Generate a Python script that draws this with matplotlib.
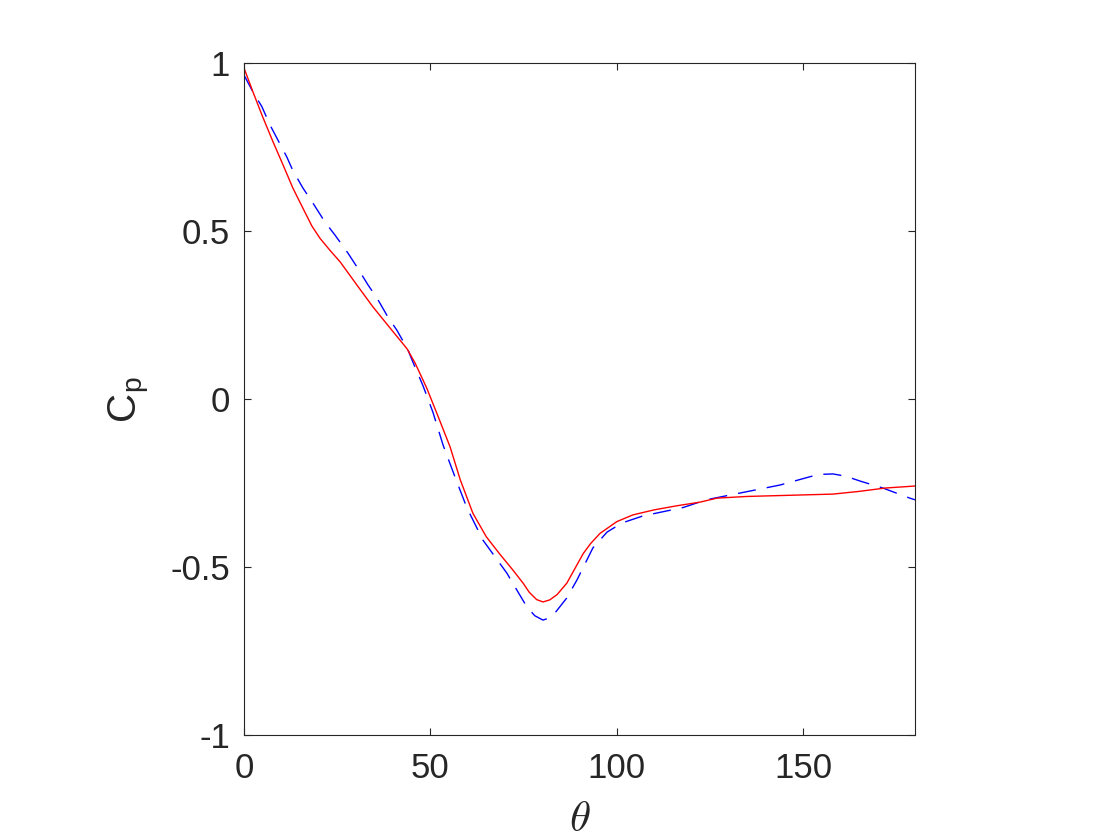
import matplotlib
matplotlib.use("Agg")
import matplotlib.pyplot as plt
import numpy as np

# pressure coefficient vs angle
theta_red = [0, 2.4, 5, 7.8, 10.5, 13.1, 15.8, 18.2, 20.4, 23.1, 25.8, 30.3, 34.6,
             39.2, 43.7, 45.9, 49, 52, 55.3, 58, 61.4, 65, 68.5, 72.2, 75, 76.5,
             78.5, 80.2, 82, 84, 86.6, 89, 91, 93, 95.5, 100, 104.3, 110, 116, 122.3,
             126.9, 135, 145, 158, 165, 172, 180]
cp_red = [0.985, 0.914, 0.84, 0.765, 0.696, 0.628, 0.568, 0.515, 0.478, 0.442, 0.408,
          0.339, 0.274, 0.211, 0.150, 0.107, 0.033, -0.05, -0.143, -0.24, -0.34,
          -0.41, -0.46, -0.51, -0.55, -0.575, -0.597, -0.604, -0.598, -0.582,
          -0.548, -0.50, -0.46, -0.43, -0.40, -0.365, -0.345, -0.33, -0.318, -0.307,
          -0.295, -0.29, -0.287, -0.283, -0.275, -0.265, -0.259]

theta_blue = [0, 2.4, 4.8, 7, 8.8, 11.5, 13.1, 15.8, 18.5, 21.7, 24.4, 27.9, 30.3,
              33.3, 35.7, 38.6, 41, 44, 45.3, 48, 50.7, 53.4, 56.6, 59.8, 64.1, 70.5,
              73, 75.9, 78, 80.2, 81.8, 83.4, 86.6, 89.3, 93.6, 97.4, 101.4, 107, 117.8,
              124, 133, 143.8, 152.6, 155.5, 158, 161.5, 165.2, 171.4, 178.6, 180]
cp_blue = [0.964, 0.914, 0.87, 0.815, 0.777, 0.72, 0.68, 0.628, 0.583, 0.527, 0.488,
           0.434, 0.393, 0.339, 0.30, 0.244, 0.205, 0.146, 0.11, 0.04, -0.04, -0.137,
           -0.232, -0.324, -0.42, -0.518, -0.565, -0.619, -0.645, -0.658, -0.652,
           -0.637, -0.592, -0.539, -0.443, -0.396, -0.369, -0.348, -0.323, -0.30,
           -0.28, -0.256, -0.229, -0.224, -0.223, -0.23, -0.244, -0.265, -0.295, -0.30]

xticks = [0, 50, 100, 150]
yticks = [-1, -0.5, 0, 0.5, 1]
ytick_labels = ['-1', '-0.5', '0', '0.5', '1']

plt.rcParams['font.family'] = ['Liberation Sans', 'DejaVu Sans']
plt.rcParams['mathtext.fontset'] = 'cm'
dark = (0.15, 0.15, 0.15)

fig = plt.figure(figsize=(11.2, 8.4), dpi=100)
ax = fig.add_axes([244 / 1120, 1 - 735 / 840, 671 / 1120, 672 / 840])

ax.plot(theta_blue, cp_blue, color='b', lw=1.0, dashes=(13, 8))
ax.plot(theta_red, cp_red, color='r', lw=1.0)

ax.set_xlim(0, 180)
ax.set_ylim(-1, 1)
ax.set_xticks(xticks)
ax.set_yticks(yticks)
ax.set_yticklabels(ytick_labels)
ax.tick_params(direction='in', top=True, right=True, length=5, width=0.8,
               labelsize=25, colors=dark)
ax.tick_params(axis='y', pad=10)
ax.tick_params(axis='x', pad=12)
for s in ax.spines.values():
    s.set_color(dark)
    s.set_linewidth(0.8)

ax.set_xlabel(r'$\theta$', fontsize=31, color=dark, labelpad=11)
ax.set_ylabel(r'C$_\mathregular{p}$', fontsize=29, color=dark, labelpad=13)

fig.savefig("out.png", dpi=100)
